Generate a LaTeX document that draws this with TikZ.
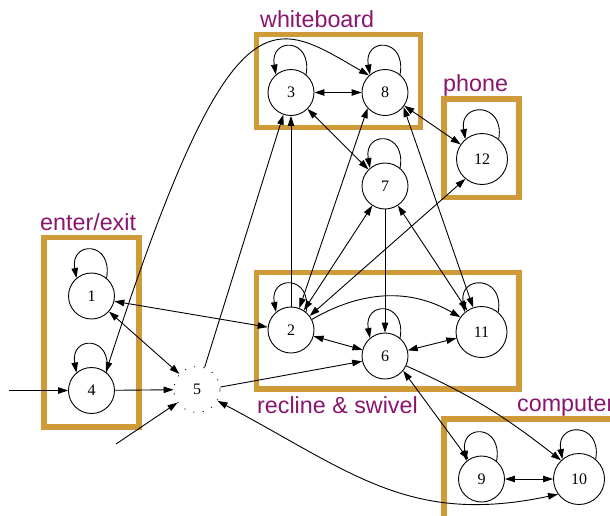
\documentclass[tikz,border=0pt]{standalone}
\usepackage{fontspec}
\setmainfont{Liberation Serif}
\newfontfamily\labfont{Liberation Sans}
\usetikzlibrary{arrows.meta}
\definecolor{boxgold}{RGB}{207,155,57}
\definecolor{labpurple}{RGB}{138,21,110}
% self transition drawn above a state
\newcommand\stateloop[1]{\draw[arr] (#1.50) .. controls +(80:38) and +(100:38) .. (#1.130);}
\begin{document}
\begin{tikzpicture}[x=1pt,y=1pt,
  state/.style={circle,draw,line width=0.9pt,minimum size=46pt,inner sep=0pt,
    font=\fontsize{16}{16}\selectfont},
  bigstate/.style={state,minimum size=51pt},
  hiddenstate/.style={state,dash pattern=on 1pt off 8.5pt},
  group/.style={draw=boxgold,line width=5.5pt},
  grouplabel/.style={anchor=base west,inner sep=0pt,text=labpurple,
    font=\labfont\fontsize{23.3}{23.3}\selectfont},
  arr/.style={line width=0.9pt,-{Triangle[length=10pt,width=6.5pt]}},
  dbl/.style={line width=0.9pt,{Triangle[length=10pt,width=6.5pt]}-{Triangle[length=10pt,width=6.5pt]}}
]
\useasboundingbox (0,0) rectangle (610,-515);

% groups of states
\draw[group] (256.5,-34.5) rectangle (420.5,-127.5);
\draw[group] (444,-99) rectangle (519,-197.5);
\draw[group] (44,-237.5) rectangle (139,-427);
\draw[group] (256.5,-272.5) rectangle (519,-389);
\draw[group] (444,-419) rectangle (625,-535);

\node[grouplabel] (lwb) at (260,-27) {whiteboard};
\node[grouplabel] (lph) at (443,-91) {phone};
\node[grouplabel] (lee) at (40,-230) {enter/exit};
\node[grouplabel] (lrs) at (257,-413) {recline \& swivel};
\node[grouplabel] (lco) at (517,-411) {computer};

% states
\node[state] (n3) at (291,-92.5) {3};
\node[state] (n8) at (385,-92.5) {8};
\node[bigstate] (n12) at (482,-159) {12};
\node[state] (n7) at (385,-186) {7};
\node[state] (n1) at (91.5,-296) {1};
\node[state] (n4) at (91.5,-390.5) {4};
\node[hiddenstate] (n5) at (197,-389.5) {5};
\node[state] (n2) at (291,-330) {2};
\node[state] (n6) at (385,-356) {6};
\node[bigstate] (n11) at (481.5,-332) {11};
\node[state] (n9) at (481.5,-479) {9};
\node[bigstate] (n10) at (579,-479) {10};

% self transitions
\stateloop{n3}
\stateloop{n8}
\stateloop{n12}
\stateloop{n7}
\stateloop{n1}
\stateloop{n4}
\stateloop{n2}
\stateloop{n6}
\stateloop{n11}
\stateloop{n9}
\stateloop{n10}

% transitions
\draw[dbl] (n3) -- (n8);
\draw[dbl] (n4.52) .. controls +(72:410) and +(150:112) .. (n8.133);
\draw[dbl] (n8) -- (n12);
\draw[dbl] (n3) -- (n7);
\draw[arr] (n2) -- (n3);
\draw[arr] (n5.71) -- (n3.251);
\draw[dbl] (n2.69) -- (n8.222);
\draw[dbl] (n2) -- (n7);
\draw[dbl] (n2.37) -- (n12.230);
\draw[dbl] (n8.322) -- (n11.109);
\draw[dbl] (n7) -- (n11);
\draw[arr] (n7) -- (n6);
\draw[arr] (n2.27) to[out=30,in=150] (n11.145);
\draw[dbl] (n2) -- (n6);
\draw[dbl] (n6) -- (n11);
\draw[arr] (n5.6) -- (n6.193);
\draw[dbl] (n1.347) -- (n2.173);
\draw[dbl] (n1) -- (n5);
\draw[arr] (n4) -- (n5);
\coordinate (in4) at (9,-390.5);
\draw[arr] (in4) -- (n4);
\coordinate (in5) at (116,-444);
\draw[arr] (in5) -- (n5);
\draw[dbl] (n6.321) -- (n9.124);
\draw[arr] (n6.335) to[out=-24,in=142] (n10.134);
\draw[dbl] (n9) -- (n10);
\draw[dbl] (n5.331) to[out=-28,in=192,looseness=1.1] (n10.216);
\end{tikzpicture}
\end{document}
